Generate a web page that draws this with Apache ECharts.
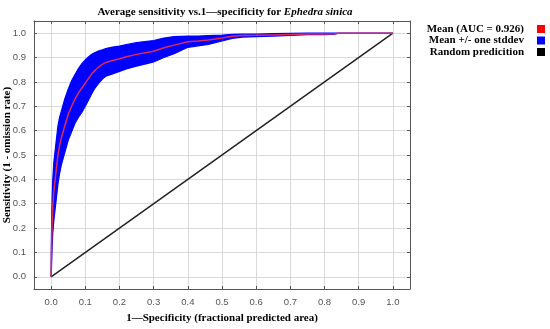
<!DOCTYPE html>
<html><head><meta charset="utf-8">
<script src="https://cdn.jsdelivr.net/npm/echarts@6/dist/echarts.min.js"></script>
<style>html,body{margin:0;padding:0;background:#fff}#c{width:550px;height:329px}</style>
</head><body><div id="c"></div>
<script>
// 1 - specificity (fractional predicted area)
const fpr = [0, 0.001, 0.003, 0.005, 0.008, 0.012, 0.016, 0.02, 0.025, 0.03, 0.04, 0.05, 0.06, 0.07, 0.08, 0.09, 0.1, 0.11, 0.12, 0.13, 0.14, 0.15, 0.16, 0.18, 0.2, 0.22, 0.25, 0.28, 0.3, 0.33, 0.36, 0.4, 0.43, 0.46, 0.5, 0.53, 0.56, 0.6, 0.65, 0.7, 0.75, 0.8, 0.83, 0.84, 1.0];
// mean sensitivity
const meanSens = [0, 0.10, 0.22, 0.29, 0.35, 0.40, 0.45, 0.50, 0.54, 0.57, 0.62, 0.665, 0.70, 0.73, 0.755, 0.775, 0.795, 0.815, 0.835, 0.85, 0.862, 0.872, 0.88, 0.888, 0.895, 0.903, 0.913, 0.921, 0.926, 0.94, 0.951, 0.965, 0.968, 0.972, 0.98, 0.987, 0.99, 0.991, 0.993, 0.995, 0.997, 0.997, 0.998, 1.0, 1.0];
// one standard deviation
const stdDev = [0, 0.07, 0.10, 0.11, 0.12, 0.12, 0.12, 0.12, 0.115, 0.11, 0.11, 0.105, 0.105, 0.10, 0.10, 0.10, 0.095, 0.088, 0.08, 0.072, 0.066, 0.06, 0.057, 0.055, 0.052, 0.05, 0.048, 0.046, 0.044, 0.04, 0.035, 0.023, 0.02, 0.018, 0.012, 0.008, 0.006, 0.005, 0.005, 0.004, 0.003, 0.003, 0.002, 0, 0];
// random prediction line
const randomX = [0, 1];
const randomY = [0, 1];
const tickValues = [0, 0.1, 0.2, 0.3, 0.4, 0.5, 0.6, 0.7, 0.8, 0.9, 1.0];
const legendLabels = ['Mean (AUC = 0.926)', 'Mean +/- one stddev', 'Random predicition'];
const legendColors = ['#ff0000', '#0000ff', '#000000'];

const serif = '"Liberation Serif", "DejaVu Serif", serif';
const sans = '"Liberation Sans", Arial, sans-serif';

const bandData = fpr.map((x, i) => [x, meanSens[i] - stdDev[i], Math.min(1, meanSens[i] + stdDev[i])]);
const meanData = fpr.map((x, i) => [x, meanSens[i]]);
const randData = randomX.map((x, i) => [x, randomY[i]]);

function axisBase(pos, showLabel) {
  return {
    type: 'value', position: pos, min: -0.05, max: 1.05,
    axisLine: { show: true, onZero: false, lineStyle: { color: '#555', width: 1 } },
    axisTick: { show: true, inside: true, length: 3, customValues: tickValues, lineStyle: { color: '#555' } },
    axisLabel: { show: showLabel, customValues: tickValues, formatter: v => v.toFixed(1),
      color: '#555', fontFamily: sans, fontSize: 9.5, margin: 8 },
    splitLine: { show: showLabel, lineStyle: { color: '#d9d9d9', width: 1 } }
  };
}

function renderBand(params, api) {
  if (params.dataIndex !== 0) return null;
  const pts = [];
  for (let i = 0; i < bandData.length; i++) pts.push(api.coord([bandData[i][0], bandData[i][2]]));
  for (let i = bandData.length - 1; i >= 0; i--) pts.push(api.coord([bandData[i][0], bandData[i][1]]));
  return { type: 'polygon', shape: { points: pts },
    style: { fill: '#0000ff', stroke: '#0000ff', lineWidth: 1.2 } };
}

const chart = echarts.init(document.getElementById('c'), null, { renderer: 'canvas' });
const legendGraphics = [];
legendLabels.forEach((t, i) => {
  const cy = 29 + i * 11.5;
  legendGraphics.push({ type: 'text', x: 524, y: cy, style: { text: t, align: 'right', verticalAlign: 'middle',
    font: 'bold 11px ' + serif, fill: '#000' } });
  legendGraphics.push({ type: 'rect', shape: { x: 537, y: cy - 4, width: 8, height: 8 }, style: { fill: legendColors[i] } });
});

const nameStyle = { fontFamily: serif, fontWeight: 'bold', fontSize: 11, color: '#000' };

chart.setOption({
  animation: false,
  title: {
    text: '{a|Average sensitivity vs.1—specificity for }{b|Ephedra sinica}',
    left: 220, top: 2, textAlign: 'center',
    textStyle: { rich: {
      a: { fontFamily: serif, fontWeight: 'bold', fontSize: 11, color: '#000' },
      b: { fontFamily: serif, fontWeight: 'bold', fontStyle: 'italic', fontSize: 11, color: '#000' }
    } }
  },
  grid: { left: 34, top: 21, right: 140, bottom: 40, containLabel: false, outerBoundsMode: 'none' },
  xAxis: [
    Object.assign(axisBase('bottom', true), { name: '1—Specificity (fractional predicted area)', nameLocation: 'middle', nameGap: 24,
      nameMoveOverlap: false, nameTextStyle: nameStyle }),
    axisBase('top', false)
  ],
  yAxis: [
    Object.assign(axisBase('left', true), { name: 'Sensitivity (1 - omission rate)', nameLocation: 'middle', nameGap: 21,
      nameMoveOverlap: false, nameTextStyle: nameStyle }),
    axisBase('right', false)
  ],
  graphic: legendGraphics,
  series: [
    { name: legendLabels[1], type: 'custom', data: bandData, renderItem: renderBand, silent: true,
      encode: { x: 0, y: [1, 2] }, z: 1 },
    { name: legendLabels[2], type: 'line', data: randData, symbol: 'none', silent: true,
      lineStyle: { width: 1.5, color: '#222' }, z: 2 },
    { name: legendLabels[0], type: 'line', data: meanData, symbol: 'none', silent: true,
      lineStyle: { width: 1.5, color: '#e0285a' }, z: 3 }
  ]
});
</script></body></html>
